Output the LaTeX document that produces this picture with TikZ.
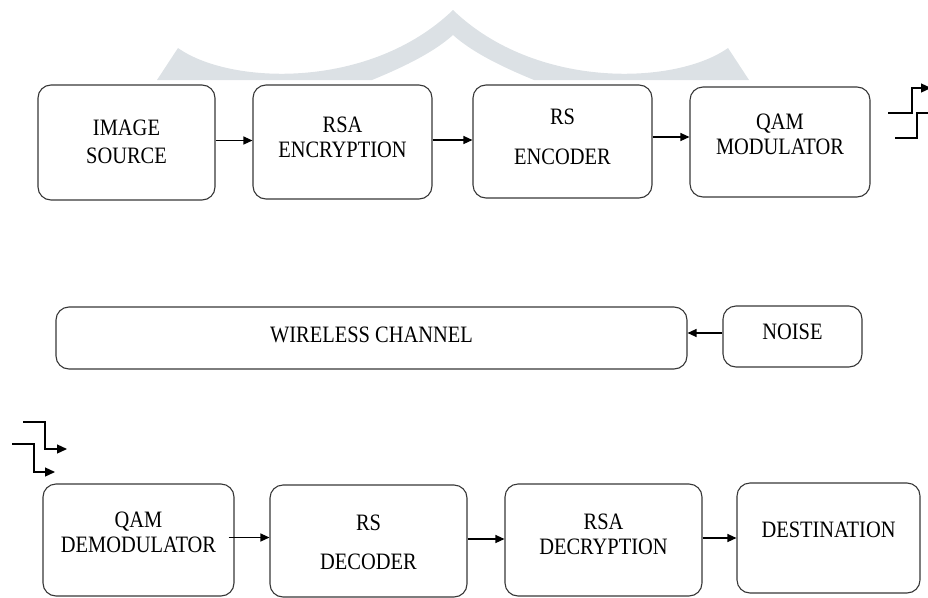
\documentclass[tikz,border=0pt]{standalone}
\usepackage{fontspec}
\setmainfont{Liberation Serif}
\newfontfamily\blockfont[FakeStretch=0.87]{Liberation Serif}
\usetikzlibrary{arrows.meta}

\definecolor{wmark}{RGB}{220,225,229}
\definecolor{edge}{RGB}{55,55,55}

\begin{document}
\begin{tikzpicture}[x=1pt,y=-1pt,
	block/.style={draw=edge, line width=1.1pt, rounded corners=13pt, inner sep=0pt},
	btext/.style={align=center, font=\blockfont\fontsize{23.5}{25}\selectfont},
	flow/.style={line width=1.2pt, -{Triangle[length=9pt,width=8pt]}},
	sig/.style={line width=1.2pt, -{Triangle[length=10pt,width=9pt]}}]

\useasboundingbox (0,0) rectangle (928,597);

% WATERMARK
\fill[wmark] (157,80) -- (178,48) .. controls (230,85) and (370,90) .. (453,10)
	.. controls (536,90) and (676,85) .. (728,48) -- (749,80) -- (534,80)
	.. controls (500,66) and (472,52) .. (453,35)
	.. controls (434,52) and (406,66) .. (372,80) -- cycle;

% TRANSMITTER
%image source
\node(imgsrc)[block, minimum width=177, minimum height=115,
	label={[btext, name=imgsrcT, yshift=1]center:{IMAGE\\[3pt]SOURCE}}] at (126.5,142.5) {};

%rsa encryption
\node(rsaenc)[block, minimum width=179, minimum height=114,
	label={[btext, name=rsaencT, yshift=4.5]center:{RSA\\ENCRYPTION}}] at (342.5,142) {};

%rs encoder
\node(rsenc)[block, minimum width=179, minimum height=113,
	label={[btext, name=rsencT, yshift=4.5]center:{RS\\[15pt]ENCODER}}] at (562.5,141.5) {};

%qam modulator
\node(qammod)[block, minimum width=180, minimum height=110,
	label={[btext, name=qammodT, yshift=7.5]center:{QAM\\MODULATOR}}] at (780,142) {};

\draw[flow] ([yshift=2]imgsrc.east) -- ([yshift=2]imgsrc.east -| rsaenc.west);
\draw[flow] ([yshift=2]rsaenc.east) -- ([yshift=2]rsaenc.east -| rsenc.west);
\draw[flow] ([yshift=4.5]rsenc.east) -- ([yshift=4.5]rsenc.east -| qammod.west);

% CHANNEL
\node(channel)[block, minimum width=631, minimum height=62,
	label={[btext, name=channelT, yshift=3]center:WIRELESS CHANNEL}] at (371.5,338) {};

\node(noise)[block, minimum width=139, minimum height=61,
	label={[btext, name=noiseT, yshift=4.5]center:NOISE}] at (792.5,336.5) {};

\draw[flow] ([yshift=3.5]noise.west) -- ([yshift=3.5]noise.west -| channel.east);

% RECEIVER
%qam demodulator
\node(qamdemod)[block, minimum width=191, minimum height=112,
	label={[btext, name=qamdemodT, yshift=8]center:{QAM\\DEMODULATOR}}] at (138.5,540) {};

%rs decoder
\node(rsdec)[block, minimum width=197, minimum height=112,
	label={[btext, name=rsdecT, yshift=-1]center:{RS\\[14pt]DECODER}}] at (368.5,541) {};

%rsa decryption
\node(rsadec)[block, minimum width=197, minimum height=112,
	label={[btext, name=rsadecT, yshift=6]center:{RSA\\DECRYPTION}}] at (603.5,540) {};

%destination
\node(dest)[block, minimum width=183, minimum height=110,
	label={[btext, name=destT, yshift=8]center:DESTINATION}] at (828.5,538) {};

\draw[flow] ([xshift=-6,yshift=2.5]qamdemod.east) -- ([yshift=2.5]qamdemod.east -| rsdec.west);
\draw[flow] ([yshift=2]rsdec.east) -- ([yshift=2]rsdec.east -| rsadec.west);
\draw[flow] ([yshift=2]rsadec.east) -- ([yshift=2]rsadec.east -| dest.west);

% SIGNALS
%out of the modulator
\draw[sig] (888,113) -- (912,113) -- (912,88) -- (931,88);
\draw[line width=1.2pt] (895,138) -- (917,138) -- (917,113) -- (928,113);
%into the demodulator
\draw[sig] (23,422) -- (45,422) -- (45,449) -- (67,449);
\draw[sig] (12,444) -- (34,444) -- (34,472) -- (55,472);

\end{tikzpicture}
\end{document}
